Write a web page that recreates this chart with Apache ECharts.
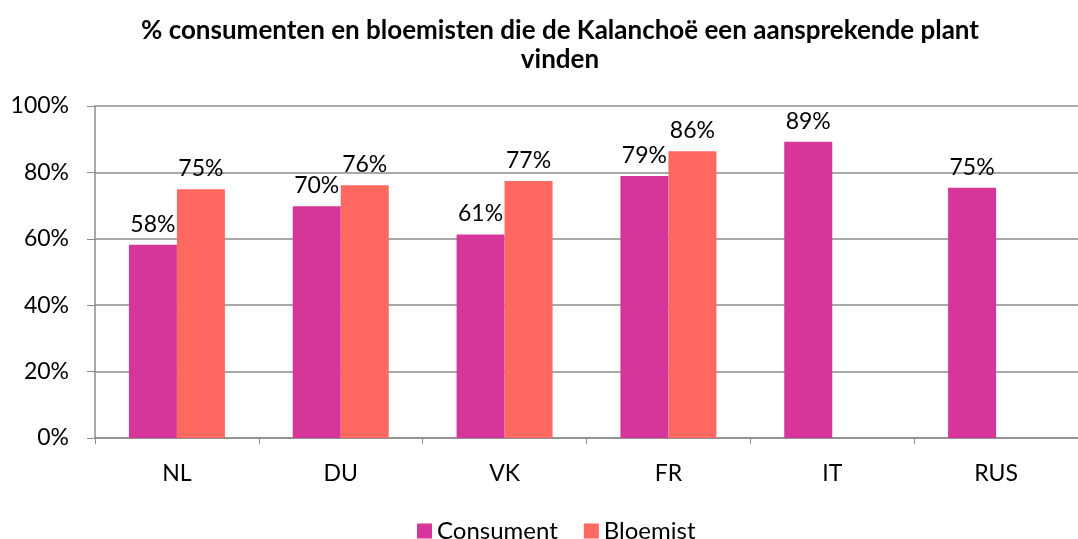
<!DOCTYPE html>
<html>
<head>
<meta charset="utf-8">
<script src="https://cdn.jsdelivr.net/npm/echarts@6/dist/echarts.min.js"></script>
<style>
  html, body { margin: 0; padding: 0; background: #fff; }
  #chart { width: 1078px; height: 539px; }
</style>
</head>
<body>
<div id="chart"></div>
<script>
const categories = ['NL', 'DU', 'VK', 'FR', 'IT', 'RUS']
const consument = [58.2, 69.8, 61.3, 78.9, 89.2, 75.4]
const bloemist = [74.9, 76.1, 77.4, 86.4, null, null]
const seriesNames = ['Consument', 'Bloemist']
const colorList = ['#D63699', '#FF6961']

const font = 'Lato, "Open Sans", sans-serif'

const chart = echarts.init(document.getElementById('chart'))

const labelStyle = {
  show: true,
  position: 'top',
  distance: 9,
  color: '#000',
  fontSize: 23,
  fontFamily: font,
  formatter: p => Math.round(p.value) + '%'
}

chart.setOption({
  animation: false,
  title: {
    text: '% consumenten en bloemisten die de Kalanchoë een aansprekende plant\nvinden',
    left: 555,
    top: 11,
    textAlign: 'center',
    textStyle: {
      fontFamily: font,
      fontWeight: 'bold',
      fontSize: 26,
      lineHeight: 29,
      color: '#000'
    }
  },
  legend: {
    top: 514,
    left: 412,
    itemWidth: 15,
    itemHeight: 15,
    itemGap: 26,
    icon: 'rect',
    textStyle: { fontFamily: font, fontSize: 24, color: '#000' },
    data: seriesNames
  },
  grid: {
    left: 95,
    top: 106,
    width: 994,
    height: 332,
    containLabel: false
  },
  xAxis: {
    type: 'category',
    data: categories,
    axisLine: { lineStyle: { color: '#8C8C8C', width: 1.5 } },
    axisTick: { show: true, length: 6, lineStyle: { color: '#8C8C8C' } },
    axisLabel: { color: '#000', fontSize: 23, fontFamily: font, margin: 24 }
  },
  yAxis: {
    type: 'value',
    min: 0,
    max: 100,
    interval: 20,
    axisLine: { show: true, lineStyle: { color: '#8C8C8C', width: 1.5 } },
    axisTick: { show: true, length: 8, lineStyle: { color: '#8C8C8C' } },
    axisLabel: {
      color: '#000',
      fontSize: 23,
      fontFamily: font,
      margin: 26,
      formatter: '{value}%'
    },
    splitLine: { lineStyle: { color: '#8C8C8C', width: 1.5 } }
  },
  series: [
    {
      name: seriesNames[0],
      type: 'bar',
      data: consument,
      barWidth: 48,
      barGap: '0%',
      itemStyle: { color: colorList[0] },
      label: labelStyle
    },
    {
      name: seriesNames[1],
      type: 'bar',
      data: bloemist,
      barWidth: 48,
      barGap: '0%',
      itemStyle: { color: colorList[1] },
      label: labelStyle
    }
  ]
})
</script>
</body>
</html>
